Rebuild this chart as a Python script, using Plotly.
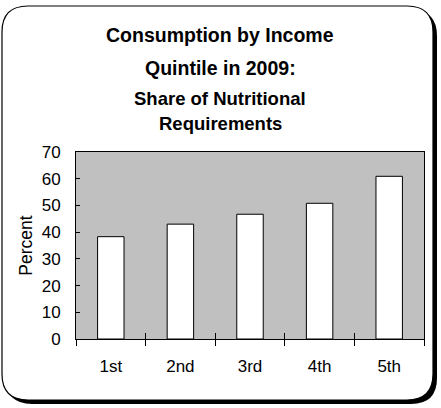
import plotly.graph_objects as go

categories = ["1st", "2nd", "3rd", "4th", "5th"]
values = [38.3, 43.0, 46.7, 50.8, 60.9]
y_ticks = [0, 10, 20, 30, 40, 50, 60, 70]

W, H = 441, 408
ML, MR, MT, MB = 76, 17, 152, 69
PW, PH = W - ML - MR, H - MT - MB


def px(x):
    return (x - ML) / PW


def py(y):
    return (H - MB - y) / PH


def rounded_rect(x0, y0, x1, y1, r):
    pts = [
        f"M {px(x0 + r)},{py(y0)}",
        f"L {px(x1 - r)},{py(y0)}",
        f"Q {px(x1)},{py(y0)} {px(x1)},{py(y0 + r)}",
        f"L {px(x1)},{py(y1 - r)}",
        f"Q {px(x1)},{py(y1)} {px(x1 - r)},{py(y1)}",
        f"L {px(x0 + r)},{py(y1)}",
        f"Q {px(x0)},{py(y1)} {px(x0)},{py(y1 - r)}",
        f"L {px(x0)},{py(y0 + r)}",
        f"Q {px(x0)},{py(y0)} {px(x0 + r)},{py(y0)}",
        "Z",
    ]
    return " ".join(pts)


fig = go.Figure()
fig.add_trace(go.Bar(
    x=categories, y=values, width=0.38,
    marker=dict(color="white", line=dict(color="black", width=1)),
    hoverinfo="x+y",
))
# invisible trace to carry the inside tick marks
fig.add_trace(go.Scatter(x=categories, y=values, xaxis="x2", mode="markers",
                         marker=dict(opacity=0), hoverinfo="skip", showlegend=False))

font = "Liberation Sans, Arial, sans-serif"

fig.update_layout(
    width=W, height=H,
    margin=dict(l=ML, r=MR, t=MT, b=MB, pad=0),
    paper_bgcolor="white",
    plot_bgcolor="#C0C0C0",
    showlegend=False,
    font=dict(family=font, size=17, color="black"),
    xaxis=dict(
        type="category", tickson="boundaries", ticks="outside", ticklen=6,
        tickcolor="black", tickwidth=1,
        showline=True, linecolor="black", linewidth=1, mirror=True,
        showgrid=False, zeroline=False, ticklabelstandoff=12,
        tickfont=dict(size=17, family=font),
    ),
    xaxis2=dict(
        type="category", overlaying="x", matches="x", tickson="boundaries",
        ticks="inside", ticklen=6, tickcolor="black", tickwidth=1,
        showticklabels=False, showline=False, showgrid=False, zeroline=False,
        side="bottom",
    ),
    yaxis=dict(
        range=[0, 70], tickvals=y_ticks, ticks="inside", ticklen=4,
        tickcolor="black", tickwidth=1,
        showline=True, linecolor="black", linewidth=1, mirror=True,
        showgrid=False, zeroline=False, ticklabelstandoff=11,
        tickfont=dict(size=17, family=font),
        title=dict(text="Percent", font=dict(size=17.5, family=font), standoff=4),
    ),
    shapes=[
        dict(type="path", xref="paper", yref="paper", layer="below",
             path=rounded_rect(6, 10, 437, 404, 26),
             fillcolor="black", line=dict(color="black", width=0)),
        dict(type="path", xref="paper", yref="paper", layer="below",
             path=rounded_rect(2, 6, 433, 400, 26),
             fillcolor="white", line=dict(color="black", width=1.2)),
        dict(type="rect", xref="paper", yref="paper", layer="below",
             x0=0, x1=1, y0=0, y1=1,
             fillcolor="#C0C0C0", line=dict(width=0)),
    ],
)

titles = [
    ("Consumption by Income", 35, 19.5),
    ("Quintile in 2009:", 68, 19.5),
    ("Share of Nutritional", 98, 18.5),
    ("Requirements", 123, 18.5),
]
for text, yc, size in titles:
    fig.add_annotation(text=f"<b>{text}</b>", xref="paper", yref="paper",
                       x=px(220), y=py(yc), xanchor="center", yanchor="middle",
                       showarrow=False, font=dict(size=size, family=font, color="black"))

fig.write_html("out.html", config={"displayModeBar": False},
               post_script="document.body.style.margin='0';")
